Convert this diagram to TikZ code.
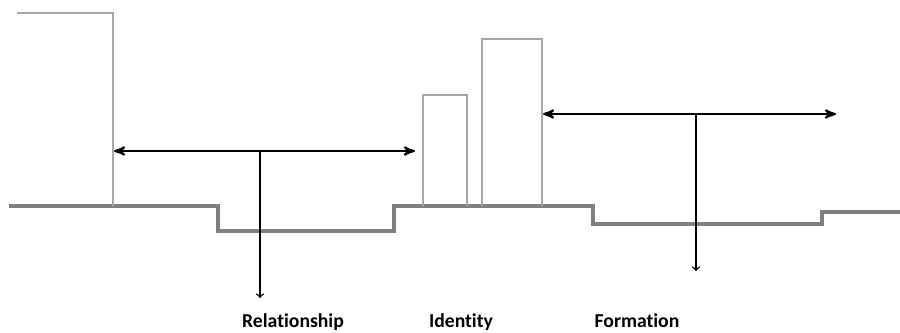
\documentclass[tikz,border=0pt]{standalone}
\usepackage{fontspec}
\setmainfont{Carlito}[Ligatures=NoCommon]
\usepackage{tikz}
\usetikzlibrary{arrows.meta}
\usetikzlibrary{arrows}

\begin{document}
\begin{tikzpicture}[x=0.02cm,y=-0.02cm]
  \tikzset{wall/.style = {draw=black!35,line width=1.5pt}}
  \tikzset{ground/.style = {draw=black!50,line width=2pt}}
  \tikzset{span/.style = {<->,>=stealth',line width=1.2pt}}
  \tikzset{drop/.style = {->,>=to,line width=0.8pt}}
  \tikzset{label/.style = {font=\fontsize{11.2}{13}\selectfont\bfseries,inner sep=0pt,anchor=base}}

  \useasboundingbox (0,0) rectangle (900,333);

  % ground line with the three hollows
  \draw[ground] (9,206) -- (218,206) -- (218,231) -- (394,231) -- (394,206)
    -- (593,206) -- (593,224) -- (822,224) -- (822,212) -- (900,212);

  % walls
  \draw[wall] (17,13) -- (113,13) -- (113,206);
  \draw[wall] (423,206) -- (423,95) -- (467,95) -- (467,206);
  \draw[wall] (482,206) -- (482,39) -- (542,39) -- (542,206);

	\coordinate (RL) at (114,151);
	\coordinate (RR) at (415,151);
	\coordinate (RM) at (260,151);
	\coordinate (FL) at (543,114);
	\coordinate (FR) at (836,114);
	\coordinate (FM) at (696,114);

	\node[label] (R) at (293,328) {Relationship};
	\node[label] (I) at (461,328) {Identity};
	\node[label] (F) at (637,328) {Formation};

	\coordinate (RD) at (260,298);
	\coordinate (FD) at (696,271);

       \foreach \from/\to in {RL/RR,FL/FR}
    \draw[span] (\from) -- (\to);
       \foreach \from/\to in {RM/RD,FM/FD}
    \draw[drop] (\from) -- (\to);
\end{tikzpicture}
\end{document}
